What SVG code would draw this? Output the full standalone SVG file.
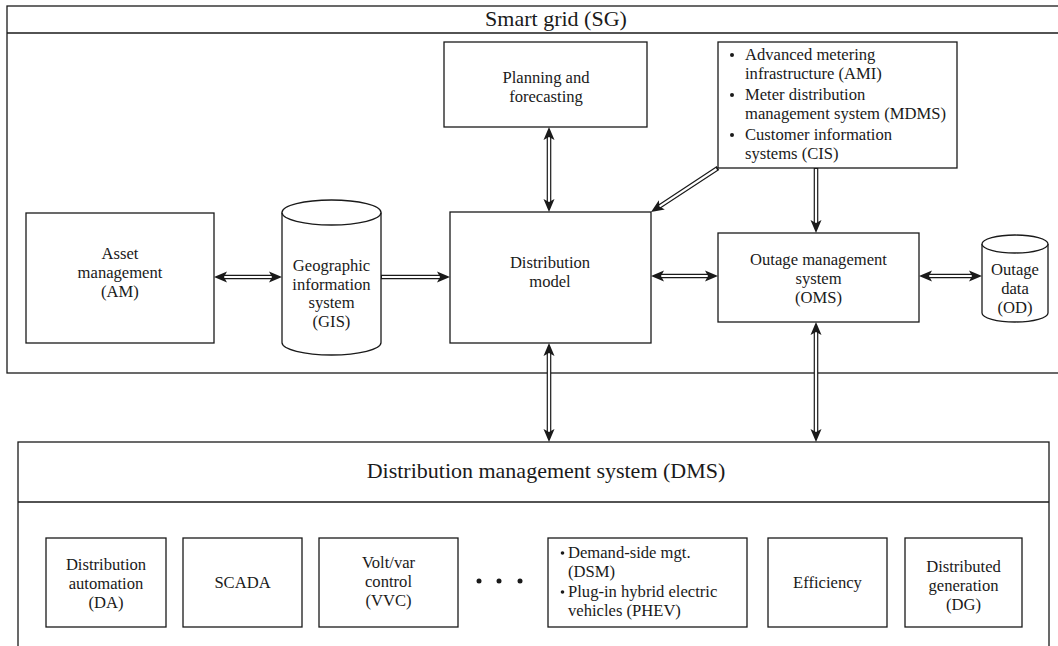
<svg xmlns="http://www.w3.org/2000/svg" width="1058" height="646" viewBox="0 0 1058 646" font-family="'Liberation Serif', 'Times New Roman', serif">
<style>
.box{fill:#fff;stroke:#1a1a1a;stroke-width:1.3}
.frame{fill:none;stroke:#1a1a1a;stroke-width:1.3}
.lbl{font-family:'Liberation Serif','Times New Roman',serif;font-size:16.6px;fill:#1a1a1a;text-anchor:middle}
.lbll{font-family:'Liberation Serif','Times New Roman',serif;font-size:16.6px;fill:#1a1a1a}
.title{font-family:'Liberation Serif','Times New Roman',serif;font-size:22px;fill:#1a1a1a;text-anchor:middle}
.so{fill:none;stroke:#1a1a1a;stroke-width:4.6}
.si{fill:none;stroke:#fff;stroke-width:2.2}
.dot{fill:#1a1a1a}
</style>
<defs>
<path id="ah" d="M0,0 L-13,-5.5 L-10,0 L-13,5.5 Z" fill="#1a1a1a"/>
</defs>

<g id="sg">
<rect class="frame" x="7" y="6" width="1060" height="367"/>
<line class="frame" x1="7" y1="33" x2="1058" y2="33"/>
<text class="title" x="556" y="26">Smart grid (SG)</text>
</g>

<g id="dms">
<rect class="frame" x="18" y="442" width="1031" height="230"/>
<line class="frame" x1="18" y1="502" x2="1049" y2="502"/>
<text class="title" x="546" y="478">Distribution management system (DMS)</text>
</g>

<g id="connectors">
<path class="so" d="M222,277 H274 M381,277 H442 M549,135 V204 M718,168 L657.7,207.6 M816,168 V225 M659,276 H710 M927,276 H974 M549,351 V434 M816,330 V434"/>
<path class="si" d="M222,277 H274 M382,277 H441 M549,135 V204 M716.5,169 L658.5,207.1 M816,169 V224 M659,276 H710 M927,276 H974 M549,351 V434 M816,330 V434"/>
<use href="#ah" transform="translate(214,277) rotate(180)"/>
<use href="#ah" transform="translate(282,277)"/>
<use href="#ah" transform="translate(450,277)"/>
<use href="#ah" transform="translate(549,127) rotate(-90)"/>
<use href="#ah" transform="translate(549,212) rotate(90)"/>
<use href="#ah" transform="translate(651,212) rotate(146.7)"/>
<use href="#ah" transform="translate(816,233) rotate(90)"/>
<use href="#ah" transform="translate(651,276) rotate(180)"/>
<use href="#ah" transform="translate(718,276)"/>
<use href="#ah" transform="translate(919,276) rotate(180)"/>
<use href="#ah" transform="translate(982,276)"/>
<use href="#ah" transform="translate(549,343) rotate(-90)"/>
<use href="#ah" transform="translate(549,442) rotate(90)"/>
<use href="#ah" transform="translate(816,322) rotate(-90)"/>
<use href="#ah" transform="translate(816,442) rotate(90)"/>
</g>

<g id="am">
<rect class="box" x="26" y="213" width="188" height="130"/>
<text class="lbl" x="120" y="259">Asset</text>
<text class="lbl" x="120" y="278">management</text>
<text class="lbl" x="120" y="297">(AM)</text>
</g>

<g id="gis">
<path class="box" d="M282,212.5 V342.5 A49.5,12.5 0 0 0 381,342.5 V212.5"/>
<ellipse class="box" cx="331.5" cy="212.5" rx="49.5" ry="12.5"/>
<text class="lbl" x="331.5" y="271">Geographic</text>
<text class="lbl" x="331.5" y="290">information</text>
<text class="lbl" x="331.5" y="308">system</text>
<text class="lbl" x="331.5" y="327">(GIS)</text>
</g>

<g id="planning">
<rect class="box" x="444" y="42" width="203" height="85"/>
<text class="lbl" x="546" y="83">Planning and</text>
<text class="lbl" x="546" y="102">forecasting</text>
</g>

<g id="ami">
<rect class="box" x="718" y="42" width="239" height="126"/>
<circle class="dot" cx="732" cy="55" r="2"/>
<text class="lbll" x="745" y="60">Advanced metering</text>
<text class="lbll" x="745" y="79">infrastructure (AMI)</text>
<circle class="dot" cx="732" cy="95" r="2"/>
<text class="lbll" x="745" y="100">Meter distribution</text>
<text class="lbll" x="745" y="119">management system (MDMS)</text>
<circle class="dot" cx="732" cy="135" r="2"/>
<text class="lbll" x="745" y="140">Customer information</text>
<text class="lbll" x="745" y="159">systems (CIS)</text>
</g>

<g id="dm">
<rect class="box" x="450" y="212" width="201" height="131"/>
<text class="lbl" x="550" y="268">Distribution</text>
<text class="lbl" x="550" y="287">model</text>
</g>

<g id="oms">
<rect class="box" x="718" y="233" width="201" height="89"/>
<text class="lbl" x="818.5" y="265">Outage management</text>
<text class="lbl" x="818.5" y="284">system</text>
<text class="lbl" x="818.5" y="303">(OMS)</text>
</g>

<g id="od">
<path class="box" d="M982,244 V313 A33,9 0 0 0 1048,313 V244"/>
<ellipse class="box" cx="1015" cy="244" rx="33" ry="9"/>
<text class="lbl" x="1015" y="275">Outage</text>
<text class="lbl" x="1015" y="294">data</text>
<text class="lbl" x="1015" y="313">(OD)</text>
</g>

<g id="da">
<rect class="box" x="46" y="538" width="120" height="89"/>
<text class="lbl" x="106" y="570">Distribution</text>
<text class="lbl" x="106" y="589">automation</text>
<text class="lbl" x="106" y="608">(DA)</text>
</g>

<g id="scada">
<rect class="box" x="183" y="538" width="119" height="89"/>
<text class="lbl" x="242.5" y="588">SCADA</text>
</g>

<g id="vvc">
<rect class="box" x="319" y="538" width="139" height="89"/>
<text class="lbl" x="388.5" y="568">Volt/var</text>
<text class="lbl" x="388.5" y="587">control</text>
<text class="lbl" x="388.5" y="606">(VVC)</text>
</g>

<g id="ellipsis">
<circle class="dot" cx="479" cy="581" r="2.5"/>
<circle class="dot" cx="499" cy="581" r="2.5"/>
<circle class="dot" cx="520" cy="581" r="2.5"/>
</g>

<g id="dsm">
<rect class="box" x="548" y="538" width="199" height="89"/>
<circle class="dot" cx="562.5" cy="553" r="1.8"/>
<text class="lbll" x="568" y="558">Demand-side mgt.</text>
<text class="lbll" x="568" y="577">(DSM)</text>
<circle class="dot" cx="562.5" cy="592" r="1.8"/>
<text class="lbll" x="568" y="597">Plug-in hybrid electric</text>
<text class="lbll" x="568" y="616">vehicles (PHEV)</text>
</g>

<g id="efficiency">
<rect class="box" x="768" y="538" width="119" height="89"/>
<text class="lbl" x="827.5" y="588">Efficiency</text>
</g>

<g id="dg">
<rect class="box" x="905" y="538" width="117" height="89"/>
<text class="lbl" x="963.5" y="572">Distributed</text>
<text class="lbl" x="963.5" y="591">generation</text>
<text class="lbl" x="963.5" y="610">(DG)</text>
</g>
</svg>
